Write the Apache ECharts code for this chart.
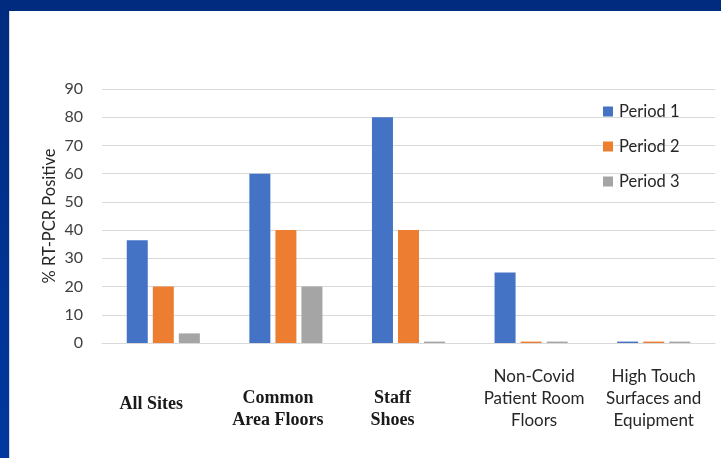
<!DOCTYPE html>
<html>
<head>
<meta charset="utf-8">
<script src="https://cdn.jsdelivr.net/npm/echarts@6/dist/echarts.min.js"></script>
<style>
  html, body { margin: 0; padding: 0; background: #ffffff; }
  #chart { width: 721px; height: 458px; }
</style>
</head>
<body>
<div id="chart"></div>
<script>
// Sampling sites (one per category) and the label lines drawn under each group
const categories = ['All Sites', 'Common Area Floors', 'Staff Shoes', 'Non-Covid Patient Room Floors', 'High Touch Surfaces and Equipment'];
const tickLabels = [
  ['All Sites'],
  ['Common', 'Area Floors'],
  ['Staff', 'Shoes'],
  ['Non-Covid', 'Patient Room', 'Floors'],
  ['High Touch', 'Surfaces and', 'Equipment']
];
// % RT-PCR positive per sampling period
const period1 = [36.4, 60, 80, 25, 0.5];
const period2 = [20, 40, 40, 0.5, 0.5];
const period3 = [3.4, 20, 0.5, 0.5, 0.5];
const seriesNames = ['Period 1', 'Period 2', 'Period 3'];
const yTicks = { min: 0, max: 90, interval: 10 };

const colors = ['#4472C4', '#ED7D31', '#A5A5A5'];

// Label styling per category: serif bold for the first three, sans for the rest,
// with horizontal offsets from each group's centre
const labelStyle = [
  { serif: true, dx: -12 },
  { serif: true, dx: -8 },
  { serif: true, dx: -16 },
  { serif: false, dx: 3 },
  { serif: false, dx: 0 }
];

const chart = echarts.init(document.getElementById('chart'), null, { renderer: 'canvas' });

const frame = [
  {
    type: 'rect', shape: { x: 0, y: 0, width: 721, height: 11 },
    style: { fill: '#002B7F' }, z: 100
  },
  {
    type: 'rect', shape: { x: 0, y: 0, width: 9, height: 458 },
    style: {
      fill: new echarts.graphic.LinearGradient(0, 0, 0, 1, [
        { offset: 0, color: '#002B7F' },
        { offset: 1, color: '#0038A0' }
      ])
    }, z: 100
  },
  {
    type: 'rect', shape: { x: 9, y: 11, width: 1, height: 447 },
    style: { fill: '#D8D8D8' }, z: 100
  }
];

const data = [period1, period2, period3];

chart.setOption({
  animation: false,
  backgroundColor: '#ffffff',
  textStyle: { fontFamily: 'Lato, "Liberation Sans", sans-serif' },
  grid: { left: 102, right: 6, top: 89, bottom: 115 },
  legend: {
    orient: 'vertical',
    left: 603,
    top: 103,
    padding: 0,
    itemWidth: 10,
    itemHeight: 10,
    itemGap: 18,
    icon: 'rect',
    data: seriesNames,
    textStyle: { fontSize: 16.5, color: '#262626', fontFamily: 'Lato, sans-serif', padding: [0, 0, 0, 1] }
  },
  xAxis: {
    type: 'category',
    data: categories,
    axisLine: { show: true, lineStyle: { color: '#D9D9D9', width: 1 } },
    axisTick: { show: false },
    axisLabel: { show: false },
    splitLine: { show: false }
  },
  yAxis: {
    type: 'value',
    min: yTicks.min,
    max: yTicks.max,
    interval: yTicks.interval,
    name: '% RT-PCR Positive',
    nameLocation: 'middle',
    nameGap: 44,
    nameMoveOverlap: false,
    nameTextStyle: { fontSize: 16.5, color: '#262626', fontFamily: 'Lato, sans-serif' },
    axisLine: { show: false },
    axisTick: { show: false },
    axisLabel: { fontSize: 16, color: '#404040', margin: 19, fontFamily: 'Lato, sans-serif' },
    splitLine: { lineStyle: { color: '#D9D9D9', width: 1 } }
  },
  series: seriesNames.map((name, i) => ({
    name: name,
    type: 'bar',
    data: data[i],
    barWidth: 21,
    barGap: '24%',
    itemStyle: { color: colors[i] }
  })),
  graphic: frame
});

// Category labels placed under each group, centred on the group plus an offset
const labelGraphics = categories.map((cat, i) => {
  const px = chart.convertToPixel({ xAxisIndex: 0 }, cat);
  const st = labelStyle[i];
  const lines = tickLabels[i];
  const midY = lines.length === 1 ? 404 : (lines.length === 2 ? 409 : 399);
  return {
    type: 'text',
    x: px + st.dx,
    y: midY,
    z: 50,
    style: {
      text: lines.join('\n'),
      align: 'center',
      verticalAlign: 'middle',
      lineHeight: 22,
      fontSize: st.serif ? 18 : 17,
      fontWeight: st.serif ? 'bold' : 'normal',
      fontFamily: st.serif ? '"Liberation Serif", "Times New Roman", serif' : 'Lato, sans-serif',
      fill: st.serif ? '#1a1a1a' : '#262626'
    }
  };
});

chart.setOption({ graphic: frame.concat(labelGraphics) });
</script>
</body>
</html>
